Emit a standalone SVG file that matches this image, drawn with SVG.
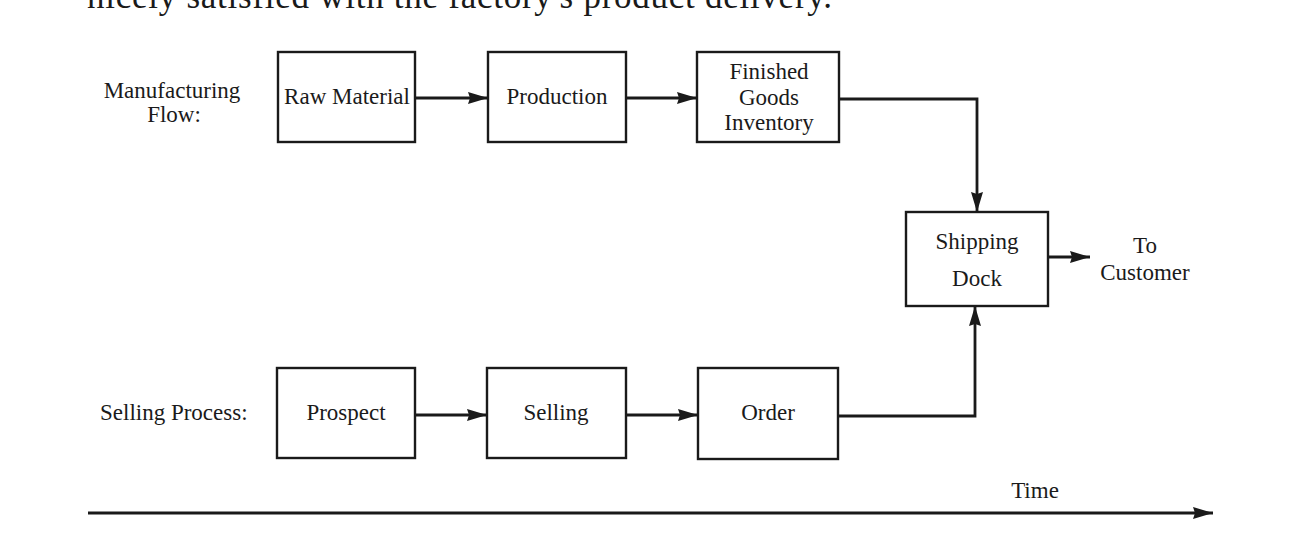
<svg xmlns="http://www.w3.org/2000/svg" width="1290" height="538" viewBox="0 0 1290 538">
<style>
  .box { fill: #ffffff; stroke: #1a1a1a; stroke-width: 2.4; }
  .lbl { font-family: "Liberation Serif", "DejaVu Serif", serif; font-size: 23px; fill: #1a1a1a; text-anchor: middle; }
  .side { font-family: "Liberation Serif", "DejaVu Serif", serif; font-size: 23px; fill: #1a1a1a; }
  .conn { fill: none; stroke: #1a1a1a; stroke-width: 2.8; marker-end: url(#arrow); }
  .body { font-family: "Liberation Serif", "DejaVu Serif", serif; font-size: 35px; fill: #1a1a1a; }
</style>
<defs>
  <marker id="arrow" markerUnits="userSpaceOnUse" markerWidth="22" markerHeight="14" refX="20" refY="7" orient="auto">
    <path d="M0,1 L20,7 L0,13 L2,7 z" fill="#1a1a1a"/>
  </marker>
</defs>
<rect width="1290" height="538" fill="#ffffff"/>

<text class="body" x="87" y="8" textLength="745" lengthAdjust="spacing">nicely satisfied with the factory's product delivery.</text>

<g id="label-manufacturing">
  <text class="side" x="172" y="98" text-anchor="middle">Manufacturing</text>
  <text class="side" x="174" y="122" text-anchor="middle">Flow:</text>
</g>
<g id="label-selling">
  <text class="side" x="100" y="420">Selling Process:</text>
</g>

<g id="raw-material">
  <rect class="box" x="278" y="52" width="137" height="90"/>
  <text class="lbl" x="347" y="104">Raw Material</text>
</g>
<g id="production">
  <rect class="box" x="488" y="52" width="138" height="90"/>
  <text class="lbl" x="557" y="104">Production</text>
</g>
<g id="finished-goods">
  <rect class="box" x="697" y="52" width="142" height="90"/>
  <text class="lbl" x="769" y="79">Finished</text>
  <text class="lbl" x="769" y="105">Goods</text>
  <text class="lbl" x="769" y="130">Inventory</text>
</g>
<g id="shipping-dock">
  <rect class="box" x="906" y="212" width="142" height="94"/>
  <text class="lbl" x="977" y="249">Shipping</text>
  <text class="lbl" x="977" y="286">Dock</text>
</g>
<g id="to-customer">
  <text class="lbl" x="1145" y="253">To</text>
  <text class="lbl" x="1145" y="280">Customer</text>
</g>
<g id="prospect">
  <rect class="box" x="277" y="368" width="138" height="90"/>
  <text class="lbl" x="346" y="420">Prospect</text>
</g>
<g id="selling">
  <rect class="box" x="487" y="368" width="139" height="90"/>
  <text class="lbl" x="556" y="420">Selling</text>
</g>
<g id="order">
  <rect class="box" x="698" y="368" width="140" height="91"/>
  <text class="lbl" x="768" y="420">Order</text>
</g>
<g id="time-label">
  <text class="lbl" x="1035" y="498">Time</text>
</g>

<g id="connectors">
  <path class="conn" d="M415,98 H488"/>
  <path class="conn" d="M626,98 H697"/>
  <path class="conn" d="M839,99 H977 V212"/>
  <path class="conn" d="M1048,257 H1090"/>
  <path class="conn" d="M415,415 H487"/>
  <path class="conn" d="M626,415 H698"/>
  <path class="conn" d="M838,416 H975 V306"/>
  <path class="conn" d="M88,513 H1213"/>
</g>
</svg>
